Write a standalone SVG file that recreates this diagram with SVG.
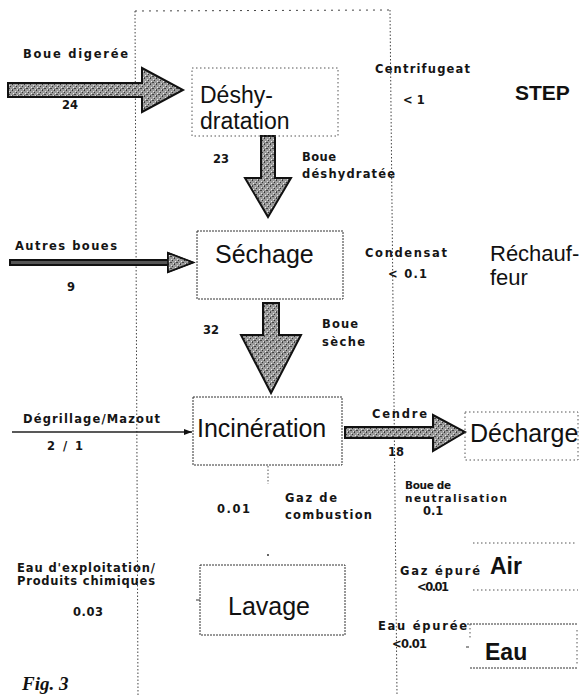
<svg xmlns="http://www.w3.org/2000/svg" width="585" height="695" viewBox="0 0 585 695">
<defs>
<style>
.lbl{font-family:"DejaVu Sans","Liberation Sans",Arial,sans-serif;font-weight:bold;font-size:11.5px;fill:#151515}
.node{font-family:"Liberation Sans",Arial,sans-serif;font-size:25px;fill:#111}
.nodeb{font-family:"Liberation Sans",Arial,sans-serif;font-weight:bold;font-size:23px;fill:#111}
.frame{fill:none;stroke:#444;stroke-width:1;stroke-dasharray:1.5 2}
.box{fill:none;stroke:#555;stroke-width:1;stroke-dasharray:1.5 2.5}
.boxd{fill:none;stroke:#333;stroke-width:1;stroke-dasharray:2 1}
.arr{fill:url(#tex);stroke:#111;stroke-width:2;stroke-linejoin:miter}
</style>
<pattern id="tex" width="6" height="6" patternUnits="userSpaceOnUse">
<rect width="6" height="6" fill="#9a9a9a"/>
<rect x="0" y="0" width="1" height="1" fill="#333"/>
<rect x="3" y="1" width="1" height="1" fill="#e0e0e0"/>
<rect x="4" y="2" width="1" height="1" fill="#333"/>
<rect x="1" y="3" width="1" height="1" fill="#eee"/>
<rect x="2" y="4" width="2" height="1" fill="#444"/>
<rect x="5" y="5" width="1" height="1" fill="#ddd"/>
<rect x="0" y="5" width="1" height="1" fill="#555"/>
</pattern>
<marker id="ah" markerWidth="8" markerHeight="6" refX="8" refY="3" orient="auto" markerUnits="userSpaceOnUse">
<path d="M0,0 L8,3 L0,6 Z" fill="#111"/>
</marker>
</defs>
<rect width="585" height="695" fill="#fff"/>

<g id="frame">
<line class="frame" x1="135" y1="11" x2="390" y2="10" style="stroke-dasharray:2 5"/>
<line class="frame" x1="135" y1="11" x2="138" y2="695"/>
<line class="frame" x1="390" y1="10" x2="397" y2="695"/>
</g>

<g id="connectors">
<polygon class="arr" points="8,83 142,83 142,68 183,90 142,112 142,97 8,97"/>
<polygon class="arr" points="261,136 275,136 275,178 291,178 268,217 245,178 261,178"/>
<polygon class="arr" points="10,260 168,260 168,253 193,262.5 168,272 168,265 10,265" style="fill:#555"/>
<polygon class="arr" points="168,253 193,262.5 168,272" style="stroke-width:1.5"/>
<polygon class="arr" points="263,303 279,303 279,335 301,335 271,393 241,335 263,335"/>
<line x1="12" y1="432" x2="192" y2="432" stroke="#222" stroke-width="1.5" marker-end="url(#ah)"/>
<polygon class="arr" points="345,427 433,427 433,415 465,432 433,451 433,438 345,438"/>
<line x1="268" y1="466" x2="268" y2="484" stroke="#555" stroke-width="1" stroke-dasharray="1.5 2"/>
<circle cx="268" cy="555" r="1" fill="#333"/>
</g>

<g id="deshydratation">
<rect class="box" x="192" y="68" width="146" height="68"/>
<text class="node" style="font-size:23px"><tspan x="200" y="103">Déshy-</tspan><tspan x="200" y="129">dratation</tspan></text>
</g>

<g id="sechage">
<rect class="boxd" x="197" y="231" width="146" height="68"/>
<text class="node" x="215" y="263">Séchage</text>
</g>

<g id="incineration">
<rect class="boxd" x="193" y="397" width="149" height="68"/>
<text class="node" x="197" y="437">Incinération</text>
</g>

<g id="lavage">
<rect class="boxd" x="200" y="565" width="145" height="70"/>
<line x1="196" y1="600" x2="200" y2="600" stroke="#333" stroke-width="1"/>
<text class="node" x="228" y="615">Lavage</text>
</g>

<g id="decharge">
<rect class="box" x="465" y="412" width="113" height="48"/>
<text class="node" x="470" y="442">Décharge</text>
</g>

<g id="step">
<text class="nodeb" x="515" y="100" style="font-size:21px">STEP</text>
</g>

<g id="rechauffeur">
<text class="node" style="font-size:22px"><tspan x="490" y="261">Réchauf-</tspan><tspan x="490" y="285">feur</tspan></text>
</g>

<g id="air">
<line class="box" x1="473" y1="543" x2="575" y2="543"/>
<line class="box" x1="473" y1="590" x2="578" y2="590"/>
<text class="nodeb" x="490" y="574">Air</text>
</g>

<g id="eau">
<line class="boxd" x1="467" y1="624" x2="577" y2="624"/>
<line class="boxd" x1="470" y1="668" x2="578" y2="668"/>
<line class="box" x1="470" y1="624" x2="470" y2="640"/>
<line class="box" x1="577" y1="630" x2="577" y2="665"/>
<line x1="466" y1="647" x2="469" y2="647" stroke="#333" stroke-width="1"/>
<text class="nodeb" x="485" y="660">Eau</text>
</g>

<g id="labels">
<text class="lbl" x="23" y="58" textLength="105" lengthAdjust="spacing">Boue digerée</text>
<text class="lbl" x="62" y="109">24</text>
<text class="lbl" x="375" y="73" textLength="95" lengthAdjust="spacing">Centrifugeat</text>
<text class="lbl" x="403" y="104">&lt; 1</text>
<text class="lbl" x="213" y="163">23</text>
<text class="lbl" x="302" y="161" textLength="34" lengthAdjust="spacing">Boue</text>
<text class="lbl" x="302" y="178" textLength="93" lengthAdjust="spacing">déshydratée</text>
<text class="lbl" x="15" y="250" textLength="102" lengthAdjust="spacing">Autres boues</text>
<text class="lbl" x="67" y="291">9</text>
<text class="lbl" x="203" y="334">32</text>
<text class="lbl" x="322" y="328" textLength="36" lengthAdjust="spacing">Boue</text>
<text class="lbl" x="322" y="346" textLength="43" lengthAdjust="spacing">sèche</text>
<text class="lbl" x="365" y="257" textLength="82" lengthAdjust="spacing">Condensat</text>
<text class="lbl" x="388" y="278" textLength="39" lengthAdjust="spacing">&lt; 0.1</text>
<text class="lbl" x="23" y="423" textLength="137" lengthAdjust="spacing">Dégrillage/Mazout</text>
<text class="lbl" x="47" y="450" textLength="36" lengthAdjust="spacing">2 / 1</text>
<text class="lbl" x="372" y="418" textLength="55" lengthAdjust="spacing">Cendre</text>
<text class="lbl" x="388" y="456">18</text>
<text class="lbl" x="217" y="513" textLength="33" lengthAdjust="spacing">0.01</text>
<text class="lbl" x="285" y="502" textLength="52" lengthAdjust="spacing">Gaz de</text>
<text class="lbl" x="285" y="519" textLength="87" lengthAdjust="spacing">combustion</text>
<text class="lbl" x="405" y="489" textLength="46" lengthAdjust="spacing" style="font-size:10.5px">Boue de</text>
<text class="lbl" x="405" y="502" textLength="102" lengthAdjust="spacing" style="font-size:10.5px">neutralisation</text>
<text class="lbl" x="423" y="515">0.1</text>
<text class="lbl" x="400" y="575" textLength="80" lengthAdjust="spacing">Gaz épuré</text>
<text class="lbl" x="417" y="591" textLength="32" lengthAdjust="spacing">&lt;0.01</text>
<text class="lbl" x="17" y="572" textLength="138" lengthAdjust="spacing">Eau d'exploitation/</text>
<text class="lbl" x="17" y="585" textLength="138" lengthAdjust="spacing">Produits chimiques</text>
<text class="lbl" x="73" y="616" textLength="30" lengthAdjust="spacing">0.03</text>
<text class="lbl" x="378" y="630" textLength="89" lengthAdjust="spacing">Eau épurée</text>
<text class="lbl" x="392" y="648" textLength="35" lengthAdjust="spacing">&lt;0.01</text>
<text x="22" y="690" style="font-family:'Liberation Serif','Times New Roman',serif;font-weight:bold;font-style:italic;font-size:19px;fill:#111">Fig. 3</text>
</g>
</svg>
